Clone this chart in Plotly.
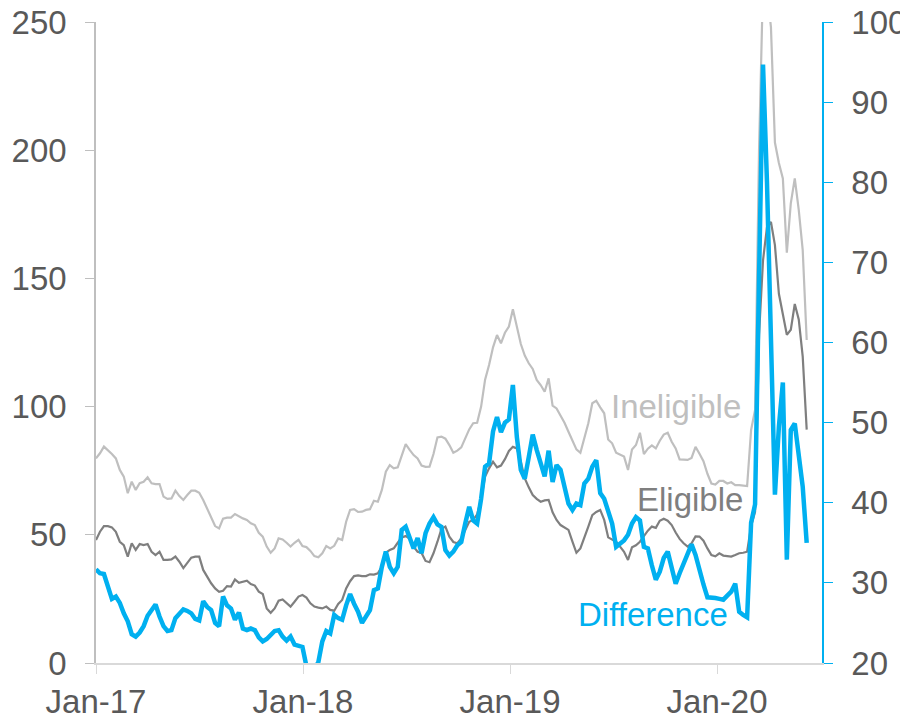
import pandas as pd
import plotly.graph_objects as go

# weekly series, first week of Jan 2017 to early Jun 2020
start_date = "2017-01-01"
n_weeks = 180

ineligible = [
    79.8, 81.8, 84.4, 83.1, 81.5, 79.8, 75.3, 72.7, 66.2, 70.7,
    67.5, 70.1, 70.7, 72.4, 70.1, 69.8, 69.8, 64.9, 64.0, 64.2,
    67.2, 65.1, 63.6, 65.5, 67.2, 67.2, 66.4, 63.6, 60.3, 57.1,
    53.4, 52.5, 56.3, 56.7, 56.7, 58.1, 57.1, 56.4, 55.8, 54.5,
    53.8, 50.8, 49.3, 45.4, 43.0, 44.7, 48.6, 48.2, 46.9, 45.4,
    46.9, 48.0, 45.6, 45.2, 43.7, 41.7, 41.2, 42.8, 45.6, 44.7,
    45.7, 48.6, 48.0, 55.1, 59.7, 60.0, 58.9, 59.0, 59.7, 60.0,
    63.3, 62.9, 67.5, 74.6, 77.2, 75.9, 76.3, 81.1, 85.4, 83.1,
    81.1, 79.8, 77.0, 76.5, 76.6, 81.5, 88.0, 88.3, 87.5, 85.0,
    82.0, 82.8, 84.1, 87.6, 91.1, 93.5, 93.7, 100.0, 110.5, 116.2,
    123.1, 127.9, 124.7, 128.8, 131.2, 138.0, 131.2, 124.4, 119.9, 116.9,
    114.7, 110.4, 108.4, 105.8, 111.0, 100.4, 99.3, 96.7, 93.7, 90.2,
    87.0, 83.3, 82.0, 87.6, 93.5, 101.3, 102.3, 99.7, 97.4, 87.2,
    85.7, 82.0, 81.4, 80.5, 75.3, 83.3, 85.0, 89.8, 81.5, 83.6,
    84.9, 83.7, 86.7, 89.1, 89.8, 86.3, 83.7, 79.4, 79.3, 79.2,
    80.0, 84.3, 81.6, 78.7, 73.8, 70.0, 69.6, 71.0, 71.0, 70.0,
    70.5, 69.4, 69.4, 69.3, 69.0, 90.9, 98.7, 200.0, 265.0, 262.0,
    248.0, 203.0, 195.0, 189.0, 160.0, 179.3, 189.0, 176.7, 161.0, 126.0,
]

eligible = [
    48.0, 51.2, 53.4, 53.4, 52.9, 51.2, 47.3, 46.0, 41.5, 46.7,
    44.1, 46.4, 46.0, 46.4, 43.4, 42.1, 43.4, 40.2, 40.2, 40.4,
    41.5, 39.5, 37.0, 38.9, 41.1, 41.5, 41.5, 36.3, 33.7, 31.1,
    29.1, 27.8, 28.2, 30.0, 29.8, 32.6, 31.3, 31.7, 32.1, 30.8,
    30.2, 27.8, 26.9, 21.3, 19.6, 21.3, 24.3, 24.8, 23.3, 22.0,
    23.9, 25.9, 26.5, 25.5, 23.3, 22.0, 21.6, 21.3, 22.0, 20.7,
    20.4, 23.0, 24.6, 29.1, 31.9, 33.9, 34.2, 33.9, 33.9, 34.6,
    34.5, 35.0, 37.6, 43.0, 44.1, 44.7, 46.9, 49.0, 49.5, 48.5,
    45.4, 43.4, 42.9, 39.8, 39.3, 42.8, 47.3, 52.3, 53.2, 49.3,
    47.2, 46.7, 48.6, 51.9, 55.1, 55.8, 58.0, 64.0, 72.7, 75.9,
    78.5, 76.3, 77.0, 79.5, 82.7, 84.3, 83.7, 78.5, 72.0, 68.5,
    65.5, 64.0, 62.9, 63.4, 63.6, 58.8, 55.8, 53.8, 52.9, 51.9,
    47.3, 43.0, 44.7, 48.6, 53.2, 57.7, 58.9, 59.7, 55.8, 49.0,
    48.2, 47.3, 45.4, 43.4, 40.2, 45.1, 45.9, 47.3, 49.5, 51.6,
    53.2, 52.7, 55.5, 56.3, 55.5, 53.8, 50.9, 48.4, 46.7, 45.4,
    46.7, 49.4, 49.3, 47.7, 44.7, 42.1, 41.6, 42.8, 41.9, 41.7,
    41.5, 42.1, 42.8, 43.0, 43.4, 53.4, 59.0, 128.0, 157.0, 170.0,
    172.0, 163.0, 144.0, 136.0, 128.0, 130.0, 140.0, 134.0, 119.5, 91.0,
]

difference = [
    31.7, 31.2, 31.1, 29.6, 28.0, 28.3, 27.5, 26.2, 25.2, 23.6,
    23.3, 23.8, 24.6, 25.9, 26.6, 27.3, 25.8, 24.6, 24.0, 24.1,
    25.6, 26.2, 26.7, 26.5, 26.2, 25.5, 25.3, 27.7, 27.0, 26.6,
    25.0, 24.6, 28.3, 27.2, 26.8, 25.4, 26.3, 24.3, 24.1, 24.3,
    24.1, 23.2, 22.7, 23.0, 23.6, 24.0, 24.1, 23.3, 22.8, 23.3,
    22.3, 22.1, 22.0, 19.6, 19.3, 19.2, 20.1, 22.7, 24.0, 23.7,
    26.0, 25.6, 25.4, 27.2, 28.6, 27.4, 26.4, 25.0, 25.8, 26.6,
    29.1, 29.3, 32.0, 33.9, 32.0, 31.2, 32.0, 36.6, 37.0, 35.8,
    34.3, 35.6, 33.7, 36.2, 37.4, 38.2, 37.3, 37.0, 34.1, 33.4,
    33.9, 34.7, 35.1, 37.4, 39.5, 37.8, 37.4, 40.5, 44.5, 44.9,
    48.9, 50.7, 48.8, 50.0, 50.4, 54.7, 48.2, 44.1, 43.0, 45.7,
    48.5, 46.6, 44.9, 43.3, 46.5, 42.6, 44.7, 44.1, 42.0, 39.9,
    39.1, 39.9, 39.7, 42.4, 43.0, 44.5, 45.3, 41.2, 40.5, 39.1,
    37.4, 34.5, 34.9, 35.3, 36.0, 37.4, 38.2, 37.8, 34.5, 34.3,
    32.2, 30.4, 31.4, 33.1, 33.9, 31.6, 29.9, 31.2, 32.4, 33.3,
    34.8, 33.5, 31.5, 29.8, 28.2, 28.2, 28.1, 28.0, 27.9, 28.4,
    28.9, 29.9, 26.4, 26.0, 25.7, 37.5, 39.8, 68.0, 94.7, 80.0,
    62.0, 41.0, 49.5, 55.0, 32.9, 49.1, 49.9, 45.8, 42.0, 35.0,
]

tick_dates = ["2017-01-01", "2018-01-01", "2019-01-01", "2020-01-01"]
tick_labels = ["Jan-17", "Jan-18", "Jan-19", "Jan-20"]

dates = pd.date_range(start_date, periods=n_weeks, freq="7D")

LIGHT = "#bfbfbf"
DARK = "#7f7f7f"
BLUE = "#00b0f0"
TXT = "#595959"

fig = go.Figure()
fig.add_trace(go.Scatter(x=dates, y=ineligible, mode="lines", name="Ineligible",
                         line=dict(color=LIGHT, width=2.2)))
fig.add_trace(go.Scatter(x=dates, y=eligible, mode="lines", name="Eligible",
                         line=dict(color=DARK, width=2.2)))
fig.add_trace(go.Scatter(x=dates, y=difference, mode="lines", name="Difference",
                         line=dict(color=BLUE, width=4.5), yaxis="y2"))

# series labels placed next to the lines
fig.add_annotation(x=0.891, y=0.40, xref="paper", yref="paper", text="Ineligible",
                   showarrow=False, xanchor="right", yanchor="middle",
                   font=dict(color=LIGHT, size=33))
fig.add_annotation(x=0.894, y=0.255, xref="paper", yref="paper", text="Eligible",
                   showarrow=False, xanchor="right", yanchor="middle",
                   font=dict(color=DARK, size=33))
fig.add_annotation(x=0.873, y=0.075, xref="paper", yref="paper", text="Difference",
                   showarrow=False, xanchor="right", yanchor="middle",
                   font=dict(color=BLUE, size=33))

# page body adds an 8px offset, so the figure is sized to fit the window
fig.update_layout(
    width=900, height=711,
    margin=dict(l=88, r=86, t=14, b=56),
    plot_bgcolor="white", paper_bgcolor="white",
    showlegend=False,
    font=dict(family="Liberation Sans, Arial, sans-serif", size=33, color=TXT),
    xaxis=dict(type="date", range=["2017-01-01", "2020-07-04"],
               tickvals=tick_dates, ticktext=tick_labels,
               showline=True, linecolor="#d9d9d9", linewidth=1.5,
               ticks="outside", ticklen=9, tickcolor="#d9d9d9",
               ticklabeloverflow="allow",
               showgrid=False, zeroline=False, automargin=False),
    yaxis=dict(range=[0, 250], dtick=50,
               showline=True, linecolor=LIGHT, linewidth=1.5,
               ticks="outside", ticklen=9, tickcolor=LIGHT,
               ticklabelstandoff=12, ticklabeloverflow="allow",
               showgrid=False, zeroline=False, automargin=False),
    yaxis2=dict(range=[20, 100], dtick=10, overlaying="y", side="right",
                showline=True, linecolor=BLUE, linewidth=1.5,
                ticks="outside", ticklen=9, tickcolor=BLUE,
                ticklabelstandoff=12, ticklabeloverflow="allow",
                showgrid=False, zeroline=False, automargin=False),
)

fig.write_html("out.html")
